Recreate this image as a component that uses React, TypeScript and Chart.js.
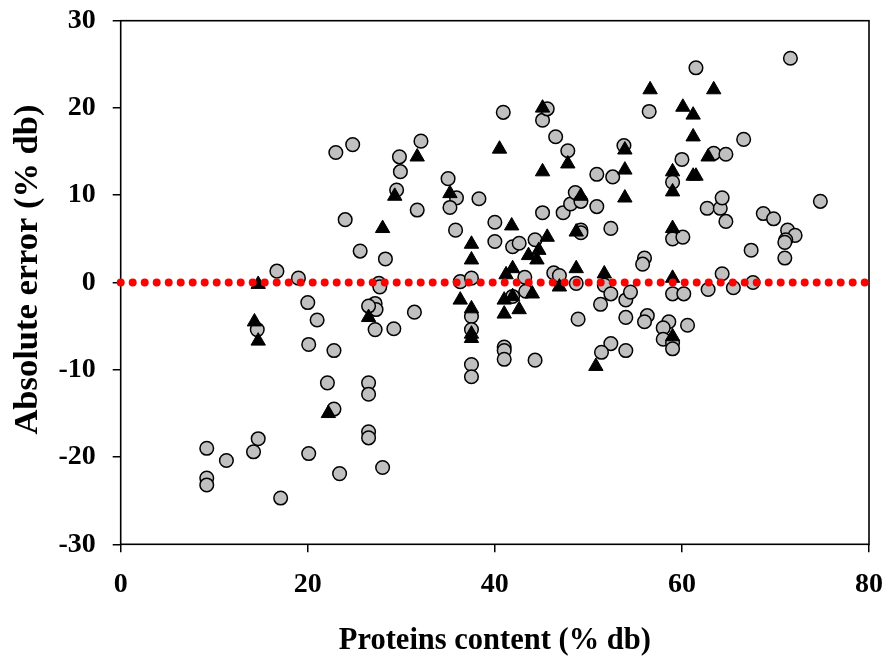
import React, { useEffect, useRef } from "react";
import { Chart, registerables } from "chart.js";

Chart.register(...registerables);

// Grey circles series
const circleX = [
  9.2, 9.2, 9.2, 11.3, 14.2, 14.7, 17.1, 20.1, 23.4, 28.0,
  26.5, 26.5, 22.1, 26.5, 26.5, 22.8, 20.1, 22.8, 21.0, 20.0,
  16.7, 19.0, 14.6, 27.2, 27.3, 26.5, 27.2, 29.2, 27.6, 27.7,
  28.3, 23.0, 24.8, 24.0, 25.6, 29.8, 29.9, 29.5, 32.1, 31.7,
  35.0, 35.9, 35.2, 38.3, 35.8, 40.9, 40.0, 40.0, 41.9, 42.6,
  44.3, 45.1, 45.6, 46.5, 47.8, 45.1, 47.3, 48.1, 48.6, 49.2,
  50.9, 52.6, 50.9, 49.2, 49.2, 52.4, 53.8, 46.3, 46.9, 36.3,
  37.5, 43.2, 31.4, 37.5, 37.5, 37.5, 37.5, 41.0, 41.0, 41.0,
  44.3, 41.9, 43.3, 48.7, 48.9, 51.7, 52.4, 51.3, 54.0, 54.5,
  54.0, 52.4, 51.4, 54.0, 71.6, 61.5, 56.5, 66.6, 63.4, 64.7,
  60.0, 59.0, 62.7, 64.1, 64.3, 64.7, 68.7, 69.8, 74.8, 71.3,
  72.1, 71.1, 71.0, 71.0, 59.0, 60.1, 56.0, 55.8, 67.4, 64.3,
  67.6, 62.8, 65.5, 59.0, 60.2, 56.3, 56.0, 58.6, 58.0, 58.0,
  60.6, 59.0, 59.0,
];
const circleY = [
  -19.0, -22.4, -23.2, -20.4, -19.4, -17.9, -24.7, -19.6, -21.9, -21.2,
  -17.1, -17.8, -11.5, -11.5, -12.8, -14.5, -7.1, -7.8, -4.3, -2.3,
  1.3, 0.5, -5.4, -2.4, -3.1, -2.7, -5.4, -5.3, -0.1, -0.5,
  2.7, 14.9, 15.8, 7.2, 3.6, 14.4, 12.7, 10.6, 16.2, 8.3,
  11.9, 9.7, 8.6, 9.6, 6.0, 19.5, 6.9, 4.7, 4.1, 4.5,
  4.9, 18.6, 19.9, 16.7, 15.1, 8.0, 8.0, 9.0, 10.3, 9.3,
  12.4, 12.1, 8.7, 6.0, 5.7, 6.2, 15.7, 1.1, 0.8, 0.1,
  0.5, 0.6, -3.4, -3.9, -5.4, -9.4, -10.8, -7.4, -7.8, -8.8,
  -8.9, -1.6, -1.0, -0.1, -4.2, -0.3, -1.3, -2.5, -2.0, -1.1,
  -4.0, -7.0, -8.0, -7.8, 25.7, 24.6, 19.6, 16.4, 14.8, 14.7,
  14.1, 11.5, 8.5, 8.5, 9.7, 7.0, 7.9, 7.3, 9.3, 6.0,
  5.4, 4.9, 4.6, 2.8, 5.0, 5.2, 2.8, 2.1, 3.7, 1.0,
  0.0, -0.8, -0.6, -1.3, -1.3, -3.8, -4.5, -4.5, -5.2, -6.5,
  -4.9, -6.9, -7.6,
];

// Black triangles series
const triangleX = [
  14.7, 14.3, 14.7, 22.2, 26.5, 28.0, 29.3, 31.7, 35.2, 40.5,
  41.8, 37.5, 37.5, 43.6, 44.5, 44.7, 45.6, 45.1, 47.8, 45.1,
  49.2, 48.7, 53.9, 53.9, 53.9, 48.7, 51.7, 41.9, 41.2, 36.3,
  37.5, 37.5, 37.5, 41.0, 41.9, 41.0, 42.6, 44.0, 46.9, 50.8,
  56.6, 63.4, 60.1, 61.2, 61.2, 62.8, 59.0, 59.0, 61.2, 61.5,
  59.0, 59.0, 59.0,
];
const triangleY = [
  -0.2, -4.5, -6.7, -15.0, -4.0, 6.2, 9.9, 14.4, 10.2, 15.3,
  6.5, 4.4, 2.6, 3.1, 2.6, 3.7, 5.2, 20.0, 13.6, 12.7,
  9.9, 5.8, 15.2, 12.9, 9.7, 1.6, 1.0, 1.6, 0.9, -2.0,
  -3.0, -5.9, -6.4, -2.0, -1.6, -3.6, -3.1, -1.3, -0.5, -9.6,
  22.1, 22.1, 20.1, 19.2, 16.7, 14.4, 12.7, 10.4, 12.2, 12.2,
  6.2, 0.5, -6.2,
];

// Zero reference line
const refLineX = [0, 80];
const refLineY = [0, 0];

// Axes
const xMin = 0;
const xMax = 80;
const xStep = 20;
const yMin = -30;
const yMax = 30;
const yStep = 10;

const xTitle = "Proteins content (% db)";
const yTitle = "   Absolute error (% db)";

const FONT = "'Liberation Serif', 'Times New Roman', Times, serif";

const framePlugin = {
  id: "frame",
  beforeDatasetsDraw(chart: any) {
    const { ctx, chartArea } = chart;
    const { left, top, right, bottom } = chartArea;
    ctx.save();
    ctx.strokeStyle = "#000";
    ctx.lineWidth = 1.6;
    ctx.strokeRect(left, top, right - left, bottom - top);
    ctx.restore();
  },
};

export default function App() {
  const canvasRef = useRef<HTMLCanvasElement | null>(null);

  useEffect(() => {
    const canvas = canvasRef.current;
    if (!canvas) return;

    const circles = circleX.map((x, i) => ({ x, y: circleY[i] }));
    const triangles = triangleX.map((x, i) => ({ x, y: triangleY[i] }));
    const refLine = refLineX.map((x, i) => ({ x, y: refLineY[i] }));

    const chart = new Chart(canvas, {
      type: "scatter",
      data: {
        datasets: [
          {
            label: "zero",
            data: refLine,
            showLine: true,
            borderColor: "#ff0000",
            borderWidth: 8,
            borderDash: [0, 12],
            borderCapStyle: "round",
            pointRadius: 0,
            clip: false,
            order: 1,
          } as any,
          {
            label: "triangles",
            data: triangles,
            pointStyle: "triangle",
            pointRadius: 8.3,
            pointBackgroundColor: "#000",
            pointBorderColor: "#000",
            pointBorderWidth: 1,
            clip: false,
            order: 2,
          },
          {
            label: "circles",
            data: circles,
            pointStyle: "circle",
            pointRadius: 6.8,
            pointBackgroundColor: "#c0c0c0",
            pointBorderColor: "#000",
            pointBorderWidth: 1.5,
            clip: false,
            order: 3,
          },
        ],
      },
      options: {
        animation: false,
        responsive: false,
        events: [],
        layout: { padding: 0 },
        plugins: {
          legend: { display: false },
          tooltip: { enabled: false },
          title: { display: false },
        },
        scales: {
          x: {
            type: "linear",
            min: xMin,
            max: xMax,
            afterFit: (s: any) => {
              s.height = 114.7;
              s.paddingRight = 20;
              s.paddingLeft = 0;
            },
            ticks: {
              stepSize: xStep,
              padding: 16,
              color: "#000",
              font: { family: FONT, size: 28, weight: "bold" },
              callback: (v: any) => String(v),
            },
            grid: {
              display: true,
              drawOnChartArea: false,
              drawTicks: true,
              tickLength: 8,
              color: "#000",
              lineWidth: 1.5,
            },
            border: { display: false },
            title: {
              display: true,
              text: xTitle,
              color: "#000",
              font: { family: FONT, size: 30.5, weight: "bold" },
              padding: { top: 0, bottom: 0 },
            },
          },
          y: {
            type: "linear",
            min: yMin,
            max: yMax,
            afterFit: (s: any) => {
              s.width = 120.7;
              s.paddingTop = 20.7;
              s.paddingBottom = 0;
            },
            ticks: {
              stepSize: yStep,
              padding: 17,
              color: "#000",
              font: { family: FONT, size: 28, weight: "bold" },
              callback: (v: any) => String(v),
            },
            grid: {
              display: true,
              drawOnChartArea: false,
              drawTicks: true,
              tickLength: 8,
              color: "#000",
              lineWidth: 1.5,
            },
            border: { display: false },
            title: {
              display: true,
              text: yTitle,
              color: "#000",
              font: { family: FONT, size: 34.5, weight: "bold" },
              padding: { top: 7, bottom: 0 },
            },
          },
        },
      },
      plugins: [framePlugin],
    });

    return () => {
      chart.destroy();
    };
  }, []);

  return (
    <div
      style={{
        position: "fixed",
        left: 0,
        top: 0,
        width: 889,
        height: 659,
        background: "#fff",
      }}
    >
      <canvas ref={canvasRef} width={889} height={659} />
    </div>
  );
}
